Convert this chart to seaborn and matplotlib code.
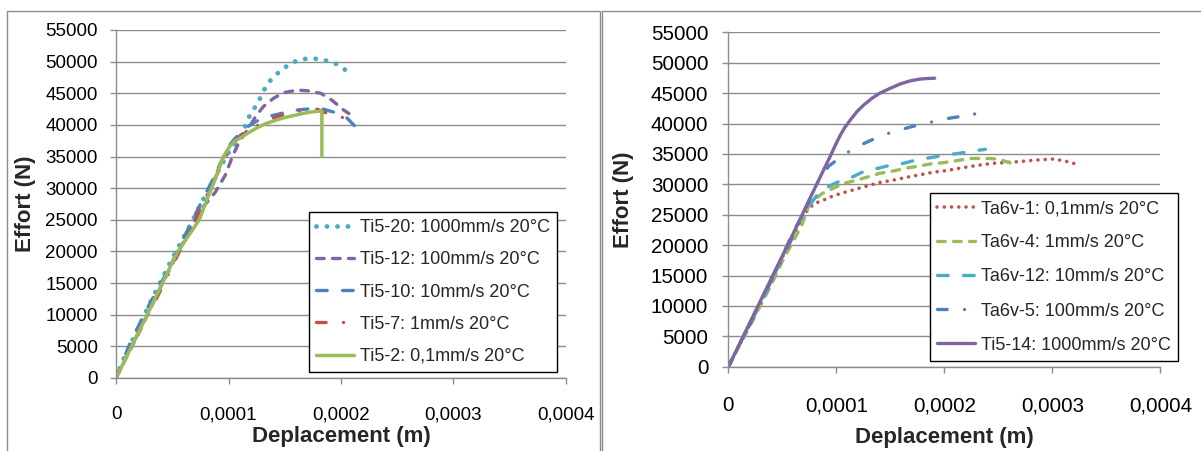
import numpy as np
import matplotlib
matplotlib.use("Agg")
import matplotlib.pyplot as plt
from matplotlib.patches import Rectangle
import seaborn as sns

# displacement values are in units of 1e-4 m, effort in N

# left chart : Ti5 specimens
ti5_20_x = [0, 0.07, 0.33, 0.50, 0.64, 0.78, 0.90, 1.00, 1.08, 1.13, 1.16, 1.20, 1.26, 1.30, 1.35,
            1.42, 1.49, 1.57, 1.66, 1.755, 1.85, 1.95, 2.03, 2.105]
ti5_20_y = [0, 3100, 12850, 18900, 23500, 28400, 32500, 35600, 37600, 38770, 40400, 41900, 43400,
            45000, 46600, 47900, 48950, 49900, 50400, 50500, 50250, 49700, 48800, 47800]

ti5_12_x = [0, 0.2, 0.4, 0.6, 0.75, 0.88, 0.97, 1.04, 1.10, 1.18, 1.24, 1.31, 1.40, 1.49, 1.61,
            1.70, 1.82, 1.92, 2.02, 2.07]
ti5_12_y = [0, 7000, 14500, 21500, 26500, 29300, 32000, 35200, 37500, 39500, 41300, 42900, 44200,
            45100, 45500, 45400, 45000, 43900, 42400, 41800]

ti5_10_x = [0, 0.125, 0.27, 0.48, 0.68, 0.85, 1.0, 1.06, 1.15, 1.25, 1.37, 1.49, 1.61, 1.755,
            1.84, 1.92, 2.02, 2.135]
ti5_10_y = [0, 5500, 10750, 17600, 25000, 31000, 36600, 37900, 39500, 40600, 41400, 41900, 42350,
            42600, 42500, 42100, 41700, 39600]

ti5_7_x = [0, 0.15, 0.35, 0.55, 0.70, 0.85, 1.0, 1.08, 1.16, 1.27, 1.39, 1.53, 1.65, 1.79, 1.85,
           1.93, 2.04]
ti5_7_y = [0, 5500, 12200, 19500, 24800, 30500, 35800, 37800, 39200, 40000, 41050, 41850, 42250,
           42470, 42000, 41570, 41050]

ti5_2_x = [0, 0.27, 0.54, 0.74, 0.80, 0.88, 0.955, 1.01, 1.06, 1.12, 1.18, 1.25, 1.33, 1.43, 1.52,
           1.61, 1.69, 1.755, 1.83, 1.83]
ti5_2_y = [0, 9700, 19700, 25000, 27800, 31300, 35000, 36600, 37500, 38100, 38800, 39500, 40200,
           40800, 41250, 41600, 41900, 42100, 42200, 35000]

# right chart : Ta6v specimens + Ti5-14
ta6v_1_x = [0, 0.2, 0.4, 0.6, 0.70, 0.76, 0.82, 0.88, 0.97, 1.06, 1.16, 1.28, 1.40, 1.53, 1.65,
            1.77, 1.90, 2.02, 2.14, 2.30, 2.45, 2.67, 2.86, 3.0, 3.1, 3.18, 3.25]
ta6v_1_y = [0, 7200, 14400, 21600, 25000, 26300, 27000, 27400, 28100, 28600, 29100, 29700, 30300,
            30700, 31150, 31550, 32000, 32250, 32650, 33100, 33450, 33700, 34000, 34150, 33900,
            33550, 33100]

ta6v_4_x = [0, 0.2, 0.4, 0.52, 0.59, 0.68, 0.74, 0.79, 0.87, 0.97, 1.08, 1.19, 1.30, 1.40, 1.53,
            1.64, 1.77, 1.87, 1.99, 2.10, 2.24, 2.42, 2.51, 2.62]
ta6v_4_y = [0, 6700, 13600, 18100, 20300, 23300, 26300, 27400, 28500, 29350, 30200, 30700, 31250,
            31800, 32200, 32650, 33000, 33350, 33550, 33850, 34250, 34250, 34100, 33450]

ta6v_12_x = [0, 0.2, 0.4, 0.6, 0.75, 0.82, 0.88, 0.97, 1.05, 1.16, 1.28, 1.39, 1.51, 1.62, 1.76,
             1.88, 2.0, 2.14, 2.27, 2.38]
ta6v_12_y = [0, 7000, 14000, 22300, 26500, 28200, 29200, 30000, 30700, 31300, 32350, 32650, 33200,
             33450, 34100, 34400, 34800, 35100, 35500, 35750]

ta6v_5_x = [0, 0.2, 0.4, 0.6, 0.78, 0.85, 0.93, 1.05, 1.16, 1.29, 1.43, 1.56, 1.70, 1.84, 1.98,
            2.13, 2.27, 2.32]
ta6v_5_y = [0, 7000, 14200, 21500, 28600, 31000, 33000, 34600, 35900, 37000, 38100, 38800, 39500,
            40050, 40700, 41100, 41700, 41000]

ti5_14_x = [0, 0.2, 0.4, 0.6, 0.82, 0.94, 1.0, 1.04, 1.08, 1.13, 1.19, 1.25, 1.33, 1.40, 1.50,
            1.59, 1.68, 1.77, 1.84, 1.91]
ti5_14_y = [0, 7300, 14600, 21900, 30100, 34500, 36800, 38200, 39400, 40600, 41950, 43000, 44150,
            44970, 45800, 46500, 47000, 47300, 47400, 47450]

x_ticks = [0, 0.0001, 0.0002, 0.0003, 0.0004]
x_tick_labels = ["0", "0,0001", "0,0002", "0,0003", "0,0004"]
y_ticks = list(range(0, 55001, 5000))

BLUE = "#4F81BD"
RED = "#C0504D"
GREEN = "#9BBB59"
PURPLE = "#8064A2"
CYAN = "#4BACC6"
GRAY = "#8c8c8c"

DOT_BIG = (0, (0.01, 2.15))
DOT_SMALL = (0, (0.01, 2.0))
DASH = (0, (2.3, 2.5))
LONGDASH = (0, (3.2, 4.6))
LONGDASHDOT = (0, (2.9, 5.2, 0.01, 5.2))
SOLID = "-"

left_series = [
    ("Ti5-20: 1000mm/s 20°C", ti5_20_x, ti5_20_y, CYAN, DOT_BIG, 3.5),
    ("Ti5-12: 100mm/s 20°C", ti5_12_x, ti5_12_y, PURPLE, DASH, 2.4),
    ("Ti5-10: 10mm/s 20°C", ti5_10_x, ti5_10_y, BLUE, LONGDASH, 2.4),
    ("Ti5-7: 1mm/s 20°C", ti5_7_x, ti5_7_y, RED, LONGDASHDOT, 2.4),
    ("Ti5-2: 0,1mm/s 20°C", ti5_2_x, ti5_2_y, GREEN, SOLID, 2.5),
]
right_series = [
    ("Ta6v-1: 0,1mm/s 20°C", ta6v_1_x, ta6v_1_y, RED, DOT_SMALL, 2.6),
    ("Ta6v-4: 1mm/s 20°C", ta6v_4_x, ta6v_4_y, GREEN, DASH, 2.4),
    ("Ta6v-12: 10mm/s 20°C", ta6v_12_x, ta6v_12_y, CYAN, LONGDASH, 2.4),
    ("Ta6v-5: 100mm/s 20°C", ta6v_5_x, ta6v_5_y, BLUE, LONGDASHDOT, 2.4),
    ("Ti5-14: 1000mm/s 20°C", ti5_14_x, ti5_14_y, PURPLE, SOLID, 2.4),
]


def draw_panel(ax, series, tick_size, ypad, xpad, ylab_x, xlab_y, leg_anchor, leg_size, leg_space):
    for label, xs, ys, color, ls, lw in series:
        sns.lineplot(x=np.array(xs) * 1e-4, y=ys, ax=ax, color=color, linestyle=ls, linewidth=lw,
                     dash_capstyle="round", solid_capstyle="round", solid_joinstyle="round",
                     estimator=None, sort=False, label=label, legend=False)

    ax.set_xlim(0, 0.0004)
    ax.set_ylim(0, 55000)
    ax.set_xticks(x_ticks)
    ax.set_xticklabels(x_tick_labels)
    ax.set_yticks(y_ticks)
    ax.set_yticklabels([str(v) for v in y_ticks])

    ax.grid(axis="y", color=GRAY, linewidth=1.0)
    ax.grid(axis="x", visible=False)
    ax.set_axisbelow(True)
    for side in ["top", "right"]:
        ax.spines[side].set_visible(False)
    for side in ["left", "bottom"]:
        ax.spines[side].set_color(GRAY)
        ax.spines[side].set_linewidth(1.0)

    ax.tick_params(axis="y", left=True, direction="out", length=4.5, width=1.0, color=GRAY,
                   pad=ypad, labelsize=tick_size, labelcolor="black")
    ax.tick_params(axis="x", bottom=True, direction="out", length=4.2, width=1.0, color=GRAY,
                   pad=xpad, labelsize=tick_size, labelcolor="black")

    ax.set_xlabel("Deplacement (m)", fontsize=16, fontweight="bold")
    ax.set_ylabel("Effort (N)", fontsize=16, fontweight="bold")
    ax.xaxis.label.set_va("center")
    ax.yaxis.label.set_va("center")
    ax.xaxis.set_label_coords(0.5, xlab_y)
    ax.yaxis.set_label_coords(ylab_x, 0.5)

    leg = ax.legend(loc="lower left", bbox_to_anchor=leg_anchor, borderaxespad=0, frameon=True,
                    fancybox=False, framealpha=1, edgecolor="black", fontsize=leg_size,
                    handlelength=2.1, handletextpad=0.3, labelspacing=leg_space, borderpad=0.4)
    leg.get_frame().set_linewidth(1.0)


sns.set_theme(style="white")
plt.rcParams["font.family"] = ["Liberation Sans", "DejaVu Sans"]

W, H = 1201, 451
fig = plt.figure(figsize=(W / 100, H / 100), dpi=100)

ax1 = fig.add_axes([116 / W, 1 - 378 / H, 450 / W, 348 / H])
ax2 = fig.add_axes([728.4 / W, 1 - 366.7 / H, 432 / W, 334.4 / H])

draw_panel(ax1, left_series, 13.5, 8.5, 16, -0.202, -0.1695, (0.429, 0.017), 13, 0.84)
draw_panel(ax2, right_series, 14.8, 10, 17, -0.242, -0.213, (0.467, 0.017), 13, 0.95)

# chart area borders
fig.add_artist(Rectangle((6.5 / W, -0.1), (600 - 6.5) / W, 1.1 - 11 / H, transform=fig.transFigure,
                         fill=False, edgecolor=GRAY, linewidth=1.0))
fig.add_artist(Rectangle((601.5 / W, -0.1), 0.6, 1.1 - 11 / H, transform=fig.transFigure,
                         fill=False, edgecolor=GRAY, linewidth=1.0))

fig.savefig("out.png", dpi=100)
